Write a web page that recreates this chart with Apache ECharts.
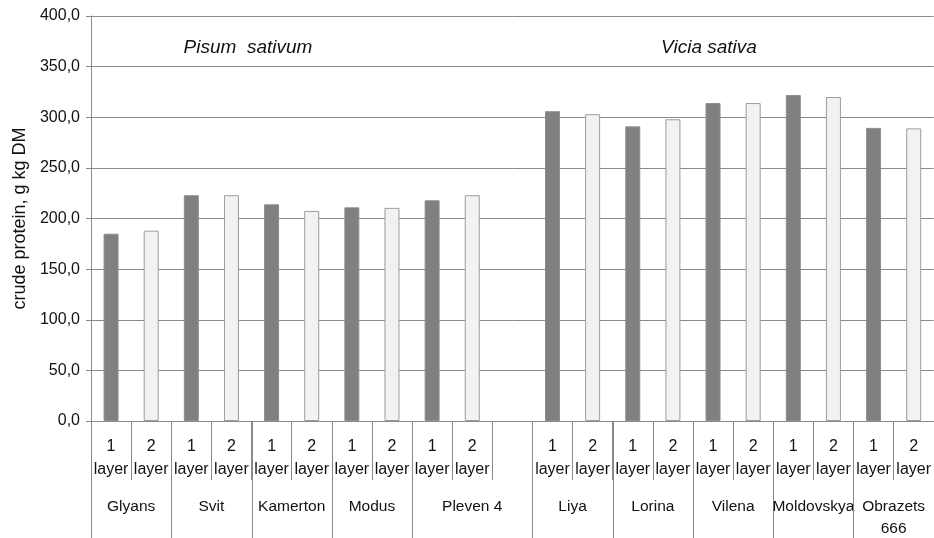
<!DOCTYPE html>
<html>
<head>
<meta charset="utf-8">
<script src="https://cdn.jsdelivr.net/npm/echarts@6/dist/echarts.min.js"></script>
<style>
  html, body { margin: 0; padding: 0; background: #fff; }
  #chart { width: 934px; height: 538px; }
</style>
</head>
<body>
<div id="chart"></div>
<script>
// Crude protein content by variety and layer
const varieties = ['Glyans', 'Svit', 'Kamerton', 'Modus', 'Pleven 4',
                   'Liya', 'Lorina', 'Vilena', 'Moldovskya', 'Obrazets\n666'];
const layer1 = [185, 223, 214, 211, 218, 306, 291, 314, 322, 289.5];
const layer2 = [188, 223, 207.5, 210.5, 223, 303, 298, 314, 320, 289];
const layerLabels = ['1\nlayer', '2\nlayer'];
const speciesLabels = ['Pisum  sativum', 'Vicia sativa'];
const yTicks = { min: 0, max: 400, step: 50 };
// number of pea varieties; an empty slot separates them from the vetches
const peaCount = 5;

// Build the category slots: two per variety, plus one blank slot after the peas
const slots = [];
const s1 = [], s2 = [];
const groupSpans = [];
varieties.forEach((v, i) => {
  const start = slots.length;
  slots.push(layerLabels[0]); s1.push(layer1[i]); s2.push(null);
  slots.push(layerLabels[1]); s1.push(null); s2.push(layer2[i]);
  if (i === peaCount - 1) { slots.push(''); s1.push(null); s2.push(null); }
  groupSpans.push([start, 0, slots.length - 1]);
});

const FONT = 'Liberation Sans, Arial, sans-serif';
const GRID_COLOR = '#8a8a8a';
const TEXT_COLOR = '#111';

const chart = echarts.init(document.getElementById('chart'), null, { renderer: 'canvas' });

chart.setOption({
  animation: false,
  backgroundColor: '#fff',
  grid: { left: 91, right: -1, top: 16, bottom: 117, containLabel: false },
  xAxis: {
    type: 'category',
    data: slots,
    axisLine: { lineStyle: { color: GRID_COLOR, width: 1 } },
    axisTick: { show: true, length: 59, lineStyle: { color: GRID_COLOR } },
    axisLabel: {
      interval: 0, margin: 14, color: TEXT_COLOR,
      fontFamily: FONT, fontSize: 16, lineHeight: 23
    }
  },
  yAxis: {
    type: 'value',
    min: yTicks.min, max: yTicks.max, interval: yTicks.step,
    name: 'crude protein, g kg DM',
    nameLocation: 'middle', nameGap: 62,
    nameTextStyle: { color: TEXT_COLOR, fontFamily: FONT, fontSize: 18 },
    axisLine: { show: true, lineStyle: { color: GRID_COLOR } },
    axisTick: { show: true, length: 5, lineStyle: { color: GRID_COLOR } },
    axisLabel: {
      margin: 11, color: TEXT_COLOR, fontFamily: FONT, fontSize: 16,
      formatter: v => v.toFixed(1).replace('.', ',')
    },
    splitLine: { lineStyle: { color: GRID_COLOR, width: 1 } }
  },
  series: [
    {
      name: '1 layer', type: 'bar', data: s1, barWidth: 15, barGap: '-100%',
      itemStyle: { color: '#808080', borderColor: '#8e8e8e', borderWidth: 1 }
    },
    {
      name: '2 layer', type: 'bar', data: s2, barWidth: 15, barGap: '-100%',
      itemStyle: { color: '#f2f2f2', borderColor: '#9c9c9c', borderWidth: 1 }
    },
    {
      // variety names under the layer labels, with full-height separators
      type: 'custom', silent: true, clip: false,
      data: groupSpans,
      encode: { x: 0, y: 1 },
      renderItem: (params, api) => {
        const band = api.size([1, 0])[0];
        const a = api.coord([api.value(0), 0]);
        const b = api.coord([api.value(2), 0]);
        const left = a[0] - band / 2;
        const right = b[0] + band / 2;
        const y0 = a[1];
        return {
          type: 'group',
          children: [
            { type: 'line', shape: { x1: Math.round(left) + 0.5, y1: y0, x2: Math.round(left) + 0.5, y2: y0 + 130 },
              style: { stroke: GRID_COLOR, lineWidth: 1 } },
            { type: 'line', shape: { x1: Math.round(right) + 0.5, y1: y0, x2: Math.round(right) + 0.5, y2: y0 + 130 },
              style: { stroke: GRID_COLOR, lineWidth: 1 } },
            { type: 'text', x: (left + right) / 2, y: y0 + 75,
              style: { text: varieties[params.dataIndex], align: 'center', verticalAlign: 'top',
                       fill: TEXT_COLOR, fontFamily: FONT, fontSize: 15.5, lineHeight: 22 } }
          ]
        };
      }
    }
  ],
  graphic: [
    { type: 'text', x: 248, y: 48,
      style: { text: speciesLabels[0], align: 'center', verticalAlign: 'middle',
               fill: TEXT_COLOR, font: 'italic 19px ' + FONT } },
    { type: 'text', x: 709, y: 48,
      style: { text: speciesLabels[1], align: 'center', verticalAlign: 'middle',
               fill: TEXT_COLOR, font: 'italic 19px ' + FONT } }
  ]
});
</script>
</body>
</html>
